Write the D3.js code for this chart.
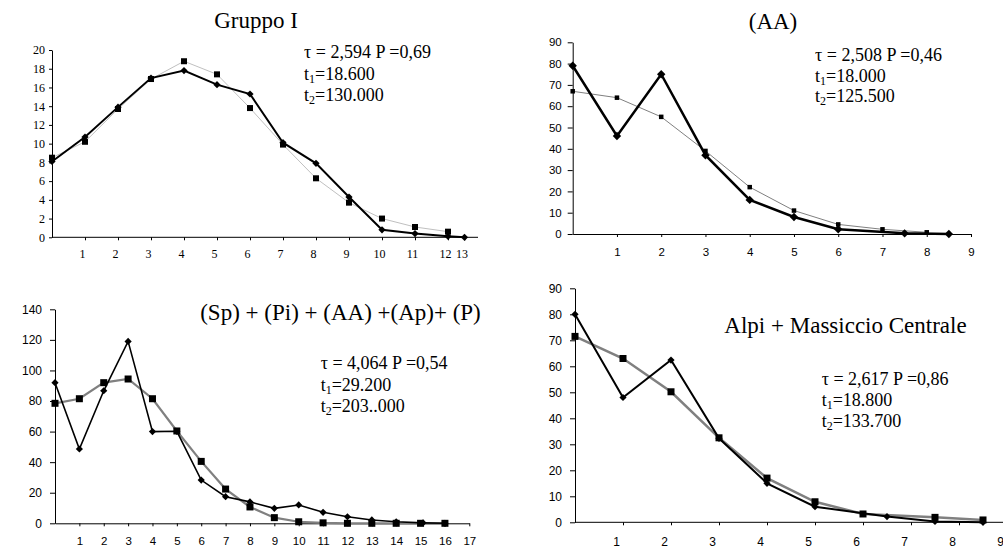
<!DOCTYPE html>
<html>
<head>
<meta charset="utf-8">
<script src="https://cdn.jsdelivr.net/npm/d3@7"></script>
<style>
  body { margin: 0; background: #fff; }
  svg { display: block; }
</style>
</head>
<body>
<script>
// --- Gruppo I ---
const g1DiamondX = [0, 1, 2, 3, 4, 5, 6, 7, 8, 9, 10, 11, 12, 12.5];
const g1DiamondY = [8.1, 10.7, 13.9, 17.0, 17.8, 16.3, 15.3, 10.1, 7.9, 4.3, 0.8, 0.4, 0.1, 0];
const g1SquareX = [0, 1, 2, 3, 4, 5, 6, 7, 8, 9, 10, 11, 12];
const g1SquareY = [8.5, 10.2, 13.7, 16.9, 18.8, 17.4, 13.8, 9.9, 6.3, 3.7, 2.0, 1.1, 0.6];
const g1YTicks = [0, 2, 4, 6, 8, 10, 12, 14, 16, 18, 20];
const g1XTicks = [1, 2, 3, 4, 5, 6, 7, 8, 9, 10, 11, 12, 12.5];
const g1XLabels = ["1", "2", "3", "4", "5", "6", "7", "8", "9", "10", "11", "12", "13"];
const g1Title = "Gruppo I";
const g1Stats = ["2,594", "0,69", "18.600", "130.000"];

// --- (AA) ---
const aaDiamondX = [0, 1, 2, 3, 4, 5, 6, 7.5, 8.5];
const aaDiamondY = [79, 46, 75, 37, 16, 8, 2.2, 0.3, 0];
const aaSquareX = [0, 1, 2, 3, 4, 5, 6, 7, 8];
const aaSquareY = [67, 64, 55, 39, 22, 11, 4.5, 2.2, 0.8];
const aaYTicks = [0, 10, 20, 30, 40, 50, 60, 70, 80, 90];
const aaXTicks = [1, 2, 3, 4, 5, 6, 7, 8, 9];
const aaXLabels = ["1", "2", "3", "4", "5", "6", "7", "8", "9"];
const aaTitle = "(AA)";
const aaStats = ["2,508", "0,46", "18.000", "125.500"];

// --- (Sp) + (Pi) + (AA) +(Ap)+ (P) ---
const spDiamondX = [0, 1, 2, 3, 4, 5, 6, 7, 8, 9, 10, 11, 12, 13, 14, 15.1, 16];
const spDiamondY = [92, 48.6, 86.7, 119, 60, 60.2, 28.3, 17.4, 14, 9.8, 12, 7.2, 4.3, 2.2, 1, 0.3, 0];
const spSquareX = [0, 1, 2, 3, 4, 5, 6, 7, 8, 9, 10, 11, 12, 13, 14, 15, 16];
const spSquareY = [78.5, 81.5, 92, 94.4, 81.5, 60.4, 40.5, 22.4, 10.7, 3.7, 1, 0.3, 0, 0, 0, 0, 0];
const spYTicks = [0, 20, 40, 60, 80, 100, 120, 140];
const spXTicks = [1, 2, 3, 4, 5, 6, 7, 8, 9, 10, 11, 12, 13, 14, 15, 16, 17];
const spXLabels = ["1", "2", "3", "4", "5", "6", "7", "8", "9", "10", "11", "12", "13", "14", "15", "16", "17"];
const spTitle = "(Sp) + (Pi) + (AA) +(Ap)+ (P)";
const spStats = ["4,064", "0,54", "29.200", "203..000"];

// --- Alpi + Massiccio Centrale ---
const amDiamondX = [0, 1, 2, 3, 4, 5, 6.5, 7.5, 8.5];
const amDiamondY = [80, 48, 62.4, 32.3, 15, 6, 2.2, 0.3, 0];
const amSquareX = [0, 1, 2, 3, 4, 5, 6, 7.5, 8.5];
const amSquareY = [71.5, 63, 50.2, 32.5, 17, 7.9, 3.2, 1.9, 0.9];
const amYTicks = [0, 10, 20, 30, 40, 50, 60, 70, 80, 90];
const amXTicks = [1, 2, 3, 4, 5, 6, 7, 8, 9];
const amXLabels = ["1", "2", "3", "4", "5", "6", "7", "8", "9"];
const amTitle = "Alpi + Massiccio Centrale";
const amStats = ["2,617", "0,86", "18.800", "133.700"];

const SERIF = "'Liberation Serif', 'Times New Roman', serif";
const SANS = "'Liberation Sans', Arial, sans-serif";

const svg = d3.select('body').append('svg')
    .attr('width', 1003)
    .attr('height', 549);

function zip(xs, ys) {
    return xs.map((x, i) => ({ x: x, y: ys[i] }));
}

function drawPanel(p) {
    const x = d3.scaleLinear().domain(p.xDomain).range(p.xRange);
    const y = d3.scaleLinear().domain(p.yDomain).range(p.yRange);
    const g = svg.append('g');

    // y axis
    const ya = g.append('g')
        .attr('transform', `translate(${p.xRange[0]},0)`)
        .call(d3.axisLeft(y).tickValues(p.yTicks).tickSize(p.yTickSize)
            .tickPadding(p.yPad).tickSizeOuter(0).tickFormat(d3.format('d')));
    ya.attr('font-family', p.yFont).attr('font-size', p.yFontSize);

    // x axis
    const xa = g.append('g')
        .attr('transform', `translate(0,${p.yRange[0]})`)
        .call(d3.axisBottom(x).tickValues(p.xTicks).tickSize(3)
            .tickPadding(p.xPad).tickSizeOuter(0)
            .tickFormat((d, i) => p.xLabels[i]));
    xa.attr('font-family', p.xFont).attr('font-size', p.xFontSize);
    xa.selectAll('text').attr('dx', p.labelDx);
    if (p.xEnd) xa.select('.domain').attr('d', `M${p.xRange[0]},0H${p.xEnd}`);
    g.selectAll('.domain').attr('stroke', '#000');
    g.selectAll('.tick line').attr('stroke', '#000');

    const line = d3.line().x(d => x(d.x)).y(d => y(d.y));

    // squares series (grey line)
    const sq = zip(p.squareX, p.squareY);
    g.append('path').datum(sq)
        .attr('fill', 'none')
        .attr('stroke', p.squareStroke)
        .attr('stroke-width', p.squareWidth)
        .attr('d', line);

    // diamond series (black line)
    const dm = zip(p.diamondX, p.diamondY);
    g.append('path').datum(dm)
        .attr('fill', 'none')
        .attr('stroke', '#000')
        .attr('stroke-width', p.diamondWidth)
        .attr('stroke-linejoin', 'miter')
        .attr('d', line);

    const s = p.squareSize;
    g.selectAll('rect.sq').data(sq).enter().append('rect')
        .attr('class', 'sq')
        .attr('x', d => x(d.x) - s / 2)
        .attr('y', d => y(d.y) - s / 2)
        .attr('width', s)
        .attr('height', s)
        .attr('fill', '#000');

    const r = p.diamondR;
    g.selectAll('path.dm').data(dm).enter().append('path')
        .attr('class', 'dm')
        .attr('transform', d => `translate(${x(d.x)},${y(d.y)})`)
        .attr('d', `M0,${-r}L${r},0L0,${r}L${-r},0Z`)
        .attr('fill', '#000');

    // title
    svg.append('text')
        .attr('x', p.titlePos[0])
        .attr('y', p.titlePos[1])
        .attr('text-anchor', 'middle')
        .attr('font-family', SERIF)
        .attr('font-size', 23)
        .text(p.title);

    // statistics block
    const st = svg.append('g')
        .attr('font-family', SERIF)
        .attr('font-size', 18)
        .attr('fill', '#000');
    const [sx, sy, lh] = p.statsPos;
    st.append('text').attr('x', sx).attr('y', sy)
        .text(`τ = ${p.stats[0]} P =${p.stats[1]}`);
    [[1, p.stats[2]], [2, p.stats[3]]].forEach(([k, v], i) => {
        const t = st.append('text').attr('x', sx).attr('y', sy + lh * (i + 1));
        t.append('tspan').text('t');
        t.append('tspan').attr('font-size', 12).attr('dy', 3).text(k);
        t.append('tspan').attr('dy', -3).text('=' + v);
    });
}

drawPanel({
    xDomain: [0, 13], xRange: [52, 481], xEnd: 478,
    yDomain: [0, 20], yRange: [237.3, 50],
    yTicks: g1YTicks, yTickSize: 3, yPad: 4, yFont: SERIF, yFontSize: 12,
    xTicks: g1XTicks, xLabels: g1XLabels, xPad: 9, xFont: SERIF, xFontSize: 12, labelDx: -3,
    diamondX: g1DiamondX, diamondY: g1DiamondY, diamondWidth: 2, diamondR: 3.6,
    squareX: g1SquareX, squareY: g1SquareY, squareStroke: '#c0c0c0', squareWidth: 1, squareSize: 6,
    title: g1Title, titlePos: [256, 28],
    stats: g1Stats, statsPos: [304, 58, 21.7]
});

drawPanel({
    xDomain: [0, 9], xRange: [572.7, 971],
    yDomain: [0, 90], yRange: [234, 42.3],
    yTicks: aaYTicks, yTickSize: 5, yPad: 6, yFont: SANS, yFontSize: 11.5,
    xTicks: aaXTicks, xLabels: aaXLabels, xPad: 11, xFont: SANS, xFontSize: 11.5, labelDx: 0,
    diamondX: aaDiamondX, diamondY: aaDiamondY, diamondWidth: 2.5, diamondR: 4.2,
    squareX: aaSquareX, squareY: aaSquareY, squareStroke: '#808080', squareWidth: 1, squareSize: 4.5,
    title: aaTitle, titlePos: [773, 29],
    stats: aaStats, statsPos: [815, 61, 20.5]
});

drawPanel({
    xDomain: [0, 17], xRange: [55, 469.3],
    yDomain: [0, 140], yRange: [523.3, 309.3],
    yTicks: spYTicks, yTickSize: 5, yPad: 8, yFont: SANS, yFontSize: 12,
    xTicks: spXTicks, xLabels: spXLabels, xPad: 11, xFont: SANS, xFontSize: 11.5, labelDx: 0,
    diamondX: spDiamondX, diamondY: spDiamondY, diamondWidth: 1.6, diamondR: 3.6,
    squareX: spSquareX, squareY: spSquareY, squareStroke: '#808080', squareWidth: 2.2, squareSize: 7,
    title: spTitle, titlePos: [340.5, 320],
    stats: spStats, statsPos: [320.7, 369.3, 21.2]
});

drawPanel({
    xDomain: [0, 9], xRange: [575, 1007], xEnd: 1003,
    yDomain: [0, 90], yRange: [522.3, 288.3],
    yTicks: amYTicks, yTickSize: 5, yPad: 8, yFont: SANS, yFontSize: 12,
    xTicks: amXTicks, xLabels: amXLabels, xPad: 12, xFont: SANS, xFontSize: 12, labelDx: -7,
    diamondX: amDiamondX, diamondY: amDiamondY, diamondWidth: 2, diamondR: 3.6,
    squareX: amSquareX, squareY: amSquareY, squareStroke: '#808080', squareWidth: 2.5, squareSize: 7,
    title: amTitle, titlePos: [845.5, 333],
    stats: amStats, statsPos: [821.7, 385, 21]
});
</script>
</body>
</html>
